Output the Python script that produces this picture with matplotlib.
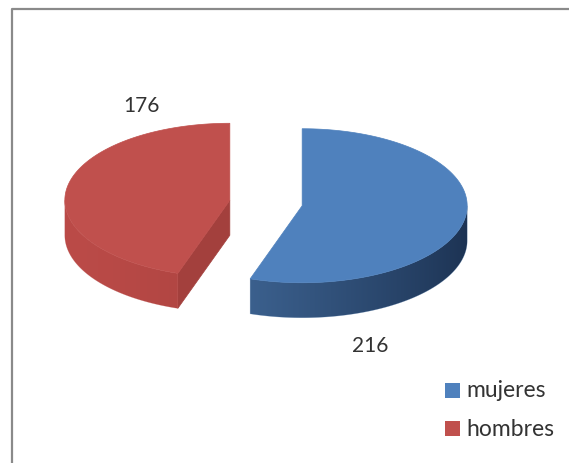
import numpy as np
import matplotlib
matplotlib.use("Agg")
import matplotlib.pyplot as plt
from matplotlib.patches import Polygon, Rectangle
from matplotlib.colors import to_rgb

# data
labels = ["mujeres", "hombres"]
values = [216, 176]
top_colors = ["#4F81BD", "#C0504D"]
wall_light = ["#4670A2", "#BB4B48"]
wall_dark = ["#1C3252", "#993835"]
cut_colors = ["#2E4C74", "#A3403D"]

plt.rcParams["font.family"] = ["Lato", "DejaVu Sans"]

W, H = 569, 464
fig = plt.figure(figsize=(W / 100, H / 100), dpi=100)
ax = fig.add_axes([0, 0, 1, 1])
ax.set_xlim(0, W)
ax.set_ylim(H, 0)
ax.axis("off")

# 3d pie geometry (pixel units)
CX, CY = 266, 204
RX, RY = 165, 77
DEPTH = 35
EXPLODE = 0.222
LIGHT = -170


def proj(theta, cx, cy, z=0.0):
    t = np.radians(theta)
    return cx + RX * np.cos(t), cy - RY * np.sin(t) + z


total = sum(values)
start = 90.0
slices = []
for i, v in enumerate(values):
    span = 360.0 * v / total
    hi, lo = start, start - span
    start = lo
    b = np.radians((lo + hi) / 2)
    cx = CX + EXPLODE * RX * np.cos(b)
    cy = CY - EXPLODE * RY * np.sin(b)
    slices.append((i, lo, hi, cx, cy))

for i, lo, hi, cx, cy in slices:
    # cut faces that face the viewer
    for edge, normal in ((lo, lo - 90), (hi, hi + 90)):
        if np.sin(np.radians(normal)) < -1e-6:
            ex, ey = proj(edge, cx, cy)
            face = [(cx, cy), (ex, ey), (ex, ey + DEPTH), (cx, cy + DEPTH)]
            ax.add_patch(Polygon(face, closed=True, fc=cut_colors[i],
                                 ec=cut_colors[i], lw=0.5))
    # outer wall (front half only), shaded by angle via a clipped gradient
    for k in (-1, 0, 1):
        a0 = max(lo, -180 + 360 * k)
        a1 = min(hi, 360 * k)
        if a1 <= a0:
            continue
        angs = np.linspace(a0, a1, 200)
        top = [proj(a, cx, cy) for a in angs]
        bot = [proj(a, cx, cy, DEPTH) for a in angs[::-1]]
        wall = Polygon(top + bot, closed=True, fc="none", ec="none")
        ax.add_patch(wall)
        xs = np.array([p[0] for p in top])
        ys = np.array([p[1] for p in top])
        x0, x1 = xs.min() - 1, xs.max() + 1
        y0, y1 = ys.min() - 1, ys.max() + DEPTH + 1
        gx = np.linspace(x0, x1, 400)
        th = -np.degrees(np.arccos(np.clip((gx - cx) / RX, -1, 1)))
        t = (1 - np.cos(np.radians(th - LIGHT))) / 2
        c1, c2 = np.array(to_rgb(wall_light[i])), np.array(to_rgb(wall_dark[i]))
        row = c1[None, :] + (c2 - c1)[None, :] * t[:, None]
        img = np.repeat(row[None, :, :], 2, axis=0)
        im = ax.imshow(img, extent=(x0, x1, y1, y0), aspect="auto",
                       interpolation="bilinear", zorder=1)
        im.set_clip_path(wall)
        ax.add_patch(Polygon(top + bot, closed=True, fc="none",
                             ec=wall_light[i], lw=0.4, alpha=0.4, zorder=1))
    # top face
    arc = [proj(a, cx, cy) for a in np.linspace(lo, hi, 150)]
    ax.add_patch(Polygon([(cx, cy)] + arc, closed=True, fc=top_colors[i],
                         ec=top_colors[i], lw=0.5, zorder=2))

ax.set_xlim(0, W)
ax.set_ylim(H, 0)

# value labels
label_xy = [(370, 346), (141, 106)]
for (x, y), v in zip(label_xy, values):
    ax.text(x, y, str(v), ha="center", va="center", fontsize=15, color="#333333")

# legend
for j, (lab, col) in enumerate(zip(labels, top_colors)):
    y = 391 + j * 38.5
    ax.add_patch(Rectangle((445, y - 7.5), 15, 15, fc=col, ec="none"))
    ax.text(466, y, lab, ha="left", va="center", fontsize=16.5, color="#333333")

# chart frame (only left and top edges visible)
ax.plot([12, 12, W], [H, 10, 10], color="#8A8A8A", lw=1.6, solid_capstyle="butt")

fig.savefig("out.png", dpi=100, facecolor="white")
